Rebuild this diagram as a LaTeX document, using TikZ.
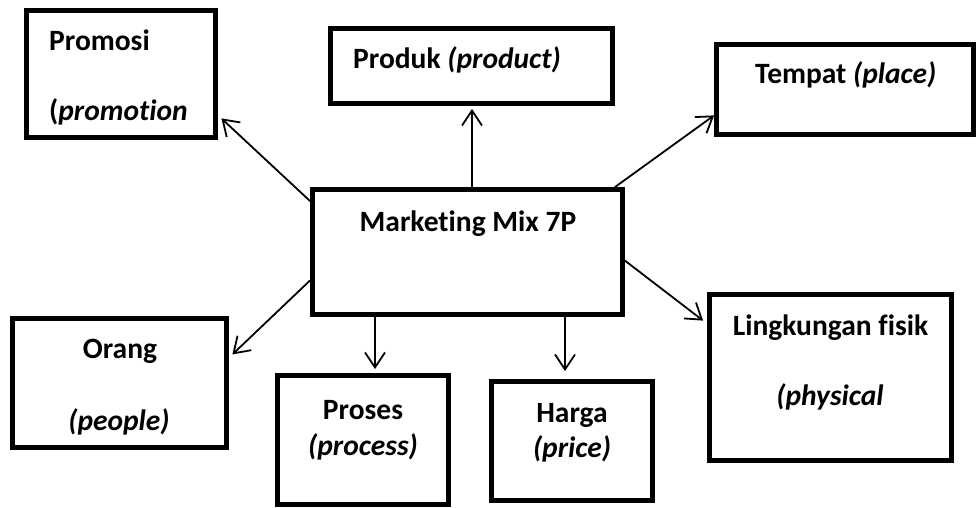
\documentclass[tikz,border=0pt]{standalone}
\usepackage{fontspec}
\setmainfont{Carlito}[Ligatures={NoCommon}]
\usetikzlibrary{arrows.meta,calc}

\tikzset{
  box/.style={draw=black, line width=4.8pt, fill=white, rectangle, inner sep=0pt},
  lbl/.style={font=\fontsize{29.5}{34}\selectfont\bfseries, inner sep=0pt},
  link/.style={draw=black, line width=1.8pt,
    -{Straight Barb[length=15pt,width=20pt,line width=1.8pt]}}
}

\begin{document}
\begin{tikzpicture}[x=1pt,y=-1pt]
  \useasboundingbox (0,0) rectangle (976,507);

  % boxes
  \node[box, minimum width=310pt, minimum height=125pt] (mix) at (467.5,252) {};
  \node[box, minimum width=189pt, minimum height=127pt] (promosi) at (121,74) {};
  \node[box, minimum width=282pt, minimum height=75pt]  (produk)  at (471.5,66) {};
  \node[box, minimum width=257pt, minimum height=90pt]  (tempat)  at (845,89.5) {};
  \node[box, minimum width=214pt, minimum height=129pt] (orang)   at (119.5,383) {};
  \node[box, minimum width=171pt, minimum height=129pt] (proses)  at (363,440) {};
  \node[box, minimum width=161pt, minimum height=119pt] (harga)   at (572,441) {};
  \node[box, minimum width=242pt, minimum height=166pt] (fisik)   at (830.5,377.5) {};

  % labels
  \node[lbl, anchor=base] (tmix) at (468,231) {Marketing Mix 7P};
  \node[lbl, anchor=base west] (tpromosi1) at (49,50) {Promosi};
  \node[lbl, anchor=base west] (tpromosi2) at (49,120) {(\textit{promotion}};
  \node[lbl, anchor=base west] (tproduk) at (353,68) {Produk \textit{(product)}};
  \node[lbl, anchor=base west] (ttempat) at (755,83) {Tempat \textit{(place)}};
  \node[lbl, anchor=base] (torang1) at (120,358) {Orang};
  \node[lbl, anchor=base] (torang2) at (119,430) {\textit{(people)}};
  \node[lbl, anchor=base] (tproses1) at (363,419) {Proses};
  \node[lbl, anchor=base] (tproses2) at (363,455) {\textit{(process)}};
  \node[lbl, anchor=base] (tharga1) at (572,422) {Harga};
  \node[lbl, anchor=base] (tharga2) at (572,457) {\textit{(price)}};
  \node[lbl, anchor=base] (tfisik1) at (830.5,335) {Lingkungan fisik};
  \node[lbl, anchor=base] (tfisik2) at (830,405) {\textit{(physical}};

  % connectors from the central box
  \draw[link] ($(mix.north west)+(0,14)$) -- ($(promosi.south east)+(3.5,-21.5)$);
  \draw[link] ($(mix.north)+(4.5,0)$) -- ($(produk.south)+(0.5,3)$);
  \draw[link] ($(mix.north east)+(-10,0)$) -- ($(tempat.south west)+(0,-21.5)$);
  \draw[link] ($(mix.south west)+(0,-36.5)$) -- ($(orang.south east)+(3.5,-95.5)$);
  \draw[link] ($(mix.south)+(-92.5,0)$) -- ($(proses.north)+(12,-4)$);
  \draw[link] ($(mix.south)+(97.5,0)$) -- ($(harga.north)+(-7,-8)$);
  \draw[link] ($(mix.north east)+(0,73.5)$) -- ($(fisik.north west)+(-4,28.5)$);
\end{tikzpicture}
\end{document}
